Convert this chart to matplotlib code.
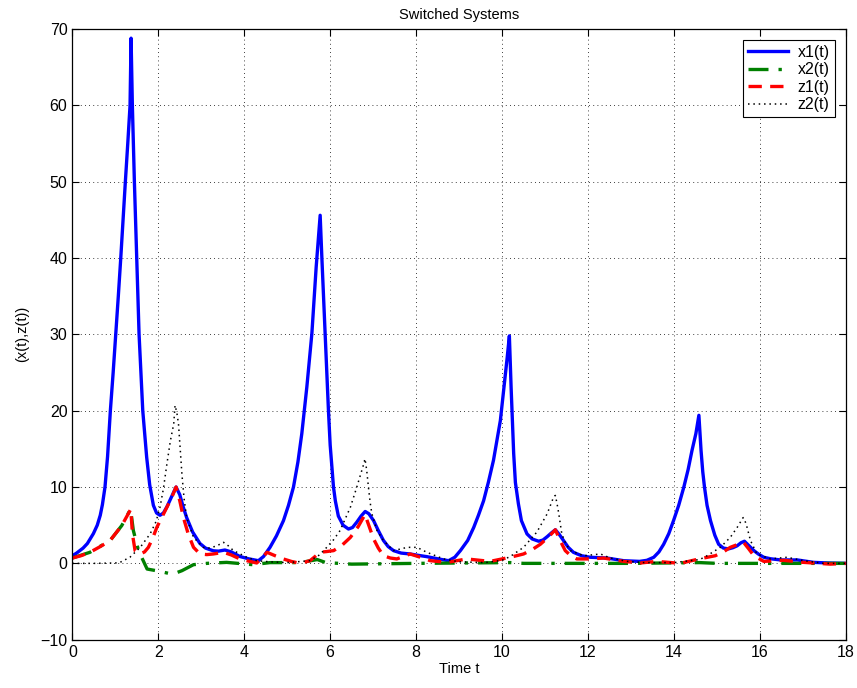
import matplotlib
matplotlib.use("Agg")
import matplotlib.pyplot as plt

plt.rcParams['font.family'] = ['Liberation Sans', 'DejaVu Sans']

# ---- data ----
t_x1 = [0, 0.1, 0.25, 0.35, 0.49, 0.58, 0.65, 0.7, 0.76, 0.82, 0.885, 0.95,
        1.01, 1.07, 1.127, 1.18, 1.234, 1.29, 1.343, 1.367,
        1.397, 1.444, 1.499, 1.553, 1.639, 1.73, 1.80, 1.886, 1.96, 2.04,
        2.12, 2.2, 2.3, 2.414, 2.5, 2.58, 2.66, 2.8, 2.97, 3.1, 3.28, 3.4,
        3.55, 3.7, 3.90, 4.1, 4.33,
        4.45, 4.60, 4.75, 4.913, 5.03, 5.146, 5.25, 5.34, 5.457, 5.574,
        5.674, 5.767, 5.807, 5.884, 5.96, 6.0, 6.077, 6.12, 6.19, 6.3,
        6.426, 6.52, 6.62, 6.72, 6.815, 6.9, 7.01, 7.12, 7.24, 7.35, 7.474,
        7.65, 7.86, 8.05, 8.25, 8.5, 8.755,
        8.9, 9.03, 9.2, 9.34, 9.45, 9.57, 9.68, 9.80, 9.96, 10.07, 10.12,
        10.17, 10.21, 10.27, 10.31, 10.38, 10.45, 10.58, 10.7, 10.85, 10.95,
        11.05, 11.15, 11.24, 11.33, 11.43, 11.54, 11.66, 11.85, 12.05,
        12.44, 12.83, 13.2,
        13.37, 13.53, 13.65, 13.76, 13.88, 13.99, 14.11, 14.23, 14.33,
        14.42, 14.51, 14.58, 14.63, 14.67, 14.71, 14.77, 14.85, 14.95,
        15.04, 15.15, 15.27, 15.37, 15.47, 15.56, 15.64, 15.73, 15.86,
        15.97, 16.09, 16.25, 16.48, 16.87, 17.25, 17.6, 18.0]
x1 = [1.0, 1.35, 2.0, 2.6, 3.9, 5.0, 6.3, 7.7, 10.0, 14.0, 20.0, 25.0,
      30.0, 35.0, 40.0, 45.0, 50.0, 55.0, 60.0, 68.8,
      60.0, 50.0, 40.0, 30.0, 20.0, 13.9, 10.3, 7.6, 6.6, 6.3,
      6.6, 7.4, 8.6, 10.0, 9.0, 7.4, 6.0, 4.1, 2.6, 2.0, 1.65, 1.6,
      1.75, 1.5, 0.9, 0.6, 0.35,
      0.9, 2.1, 3.6, 5.6, 7.6, 10.0, 13.3, 17.0, 23.1, 30.1,
      38.8, 45.6, 40.0, 30.0, 20.0, 15.5, 10.0, 8.2, 6.2, 5.0,
      4.5, 4.7, 5.4, 6.2, 6.8, 6.5, 5.6, 4.3, 3.0, 2.2, 1.67,
      1.35, 1.23, 1.05, 0.88, 0.6, 0.35,
      0.8, 1.67, 3.0, 4.7, 6.3, 8.2, 10.6, 13.5, 18.7, 24.4, 27.0,
      29.8, 23.1, 14.4, 10.6, 7.8, 5.6, 3.86, 3.2, 2.9, 3.05,
      3.5, 4.0, 4.4, 3.8, 3.0, 2.1, 1.45, 1.0, 0.8,
      0.7, 0.35, 0.26,
      0.4, 0.8, 1.5, 2.5, 3.9, 5.6, 7.6, 10.0, 12.3,
      14.8, 17.0, 19.4, 14.8, 12.0, 10.0, 7.6, 5.6, 3.7,
      2.5, 2.0, 1.9, 2.05, 2.3, 2.7, 2.9, 2.4, 1.67,
      1.2, 0.8, 0.6, 0.45, 0.45, 0.13, 0.05, 0.0]

t_x2 = [0, 0.41, 0.88, 1.15, 1.355, 1.42, 1.54, 1.65, 1.74, 2.04, 2.31,
        2.39, 2.55, 2.82, 3.13, 3.59, 4.2, 4.6, 5.3, 5.7, 5.9, 6.5, 8.0,
        10.2, 10.5, 13.0, 14.6, 15.0, 18.0]
x2 = [0.7, 1.45, 3.0, 4.95, 7.1, 4.3, 1.67, 0.35, -0.74, -1.05, -1.4,
      -1.3, -0.96, -0.17, 0.0, 0.13, -0.17, 0.1, 0.1, 0.5, 0.1, -0.1, 0.0,
      0.1, 0.0, 0.0, 0.1, 0.0, 0.0]

t_z1 = [0, 0.2, 0.41, 0.65, 0.88, 1.15, 1.36, 1.40, 1.46, 1.58, 1.68, 1.77,
        1.87, 1.965, 2.08, 2.2, 2.31, 2.414, 2.5, 2.585, 2.7, 2.82, 2.97,
        3.13, 3.28, 3.52, 3.7, 3.9, 4.1, 4.29, 4.4, 4.53, 4.72, 4.91, 5.1,
        5.3, 5.53, 5.65, 5.76, 5.92, 6.08, 6.28, 6.47, 6.65, 6.81, 6.91,
        7.01, 7.12, 7.24, 7.4, 7.55, 7.86, 8.1, 8.33, 8.72,
        9.18, 9.72, 10.19, 10.5, 10.7, 10.89, 11.07, 11.24, 11.35, 11.47,
        11.6, 11.74, 12.05, 12.36, 12.83, 13.22, 13.6, 14.15, 14.58, 14.96,
        15.15, 15.31, 15.47, 15.62, 15.74, 15.86, 16.09, 16.55, 17.02,
        17.64, 18.0]
z1 = [0.7, 1.0, 1.45, 2.2, 3.0, 4.95, 7.1, 3.8, 1.67, 1.23, 1.5, 2.1,
      3.3, 4.7, 6.0, 7.35, 8.6, 10.0, 8.2, 6.0, 3.8, 2.1, 1.23,
      1.15, 1.23, 1.45, 1.1, 0.58, 0.3, 0.05, 0.6, 1.45, 1.0, 0.58, 0.25,
      0.0, 0.35, 0.9, 1.45, 1.55, 1.67, 2.4, 3.4, 4.8, 6.4, 4.8,
      3.2, 2.0, 1.0, 0.7, 0.58, 1.23, 0.8, 0.35, 0.13,
      0.58, 0.26, 0.8, 1.23, 1.8, 2.5, 3.4, 4.4, 3.0, 1.67,
      1.0, 0.58, 0.58, 0.7, 0.26, 0.05, 0.26, 0.0, 0.58, 1.0,
      1.5, 2.1, 2.45, 2.75, 1.9, 1.0, 0.26, 0.4, 0.13,
      -0.1, 0.0]

t_z2 = [0, 0.5, 1.0, 1.11, 1.34, 1.58, 1.81, 1.95, 2.04, 2.12, 2.2, 2.28,
        2.36, 2.39, 2.43, 2.47, 2.51, 2.55, 2.6, 2.66, 2.82, 3.05, 3.2,
        3.36, 3.52, 3.63, 3.75, 4.06, 4.29, 4.6, 5.0,
        5.53, 5.75, 5.92, 6.08, 6.23, 6.47, 6.62, 6.78, 6.81, 6.85, 6.89,
        6.93, 6.97, 7.09, 7.24, 7.47, 7.65, 7.79, 8.02, 8.25, 8.64, 9.0,
        9.6, 10.0, 10.19, 10.5, 10.81, 11.05, 11.2, 11.24, 11.28, 11.32,
        11.39, 11.48, 11.59, 11.9, 12.29, 12.52, 12.91,
        13.3, 14.0, 14.6, 14.77, 15.08, 15.31, 15.47, 15.61, 15.65, 15.69,
        15.78, 15.93, 16.24, 16.63, 17.02, 17.49, 18.0]
z2 = [0.0, 0.0, 0.05, 0.13, 0.8, 2.1, 3.86, 5.5, 7.35, 9.8, 13.0, 16.0,
      18.3, 20.7, 19.8, 18.3, 15.0, 11.7, 8.5, 6.0, 3.4, 2.1, 2.0,
      2.3, 2.75, 2.3, 1.67, 0.8, 0.35, 0.2, 0.1,
      0.35, 1.1, 2.1, 3.1, 4.3, 7.35, 10.0, 13.0, 13.7, 12.2, 10.0,
      8.0, 6.5, 4.3, 3.0, 1.67, 1.9, 2.1, 2.1, 1.45, 0.58, 0.2,
      0.1, 0.4, 0.9, 2.1, 4.1, 6.5, 8.7, 8.9, 7.8, 6.5,
      3.86, 2.6, 1.67, 1.0, 1.23, 0.7, 0.26,
      0.1, 0.1, 0.5, 1.0, 2.1, 3.4, 4.7, 6.0, 5.6, 4.95,
      3.0, 1.23, 0.58, 0.8, 0.35, 0.0, 0.0]

labels = ['x1(t)', 'x2(t)', 'z1(t)', 'z2(t)']
x_ticks = [0, 2, 4, 6, 8, 10, 12, 14, 16, 18]
y_ticks = [-10, 0, 10, 20, 30, 40, 50, 60, 70]

fig = plt.figure(figsize=(8.57, 6.88), dpi=100)
ax = fig.add_axes([0.0844, 0.0702, 0.9026, 0.8876])

kw = dict(solid_joinstyle='round', dash_joinstyle='round')
ax.plot(t_x1, x1, color='#0000ff', lw=2.4, ls='-', label=labels[0], **kw)
ax.plot(t_x2, x2, color='#008000', lw=2.4, ls=(0, (6, 3, 1, 3)),
        label=labels[1], **kw)
ax.plot(t_z1, z1, color='#ff0000', lw=2.4, ls=(0, (4, 2.5)),
        label=labels[2], **kw)
ax.plot(t_z2, z2, color='black', lw=1.1, ls=(0, (1, 2.5)),
        label=labels[3], **kw)

ax.set_xlim(0, 18)
ax.set_ylim(-10, 70)
ax.set_xticks(x_ticks)
ax.set_yticks(y_ticks)
ax.tick_params(direction='in', length=5, width=0.8, top=True, right=True,
               labelsize=11.5)
ax.grid(True, color='black', ls=(0, (1, 4)), lw=0.6)
for s in ax.spines.values():
    s.set_linewidth(0.9)

ax.set_title('Switched Systems', fontsize=10.5, pad=7)
ax.set_xlabel('Time t', fontsize=10.5, labelpad=2)
ax.set_ylabel('(x(t),z(t))', fontsize=10.5, labelpad=8)

leg = ax.legend(loc='upper right', fontsize=11.5, fancybox=False,
                edgecolor='black', framealpha=1, handlelength=2.5,
                borderaxespad=0.7, labelspacing=0.15, borderpad=0.3,
                handletextpad=0.6)
leg.get_frame().set_linewidth(0.8)

fig.savefig('out.png', dpi=100)
